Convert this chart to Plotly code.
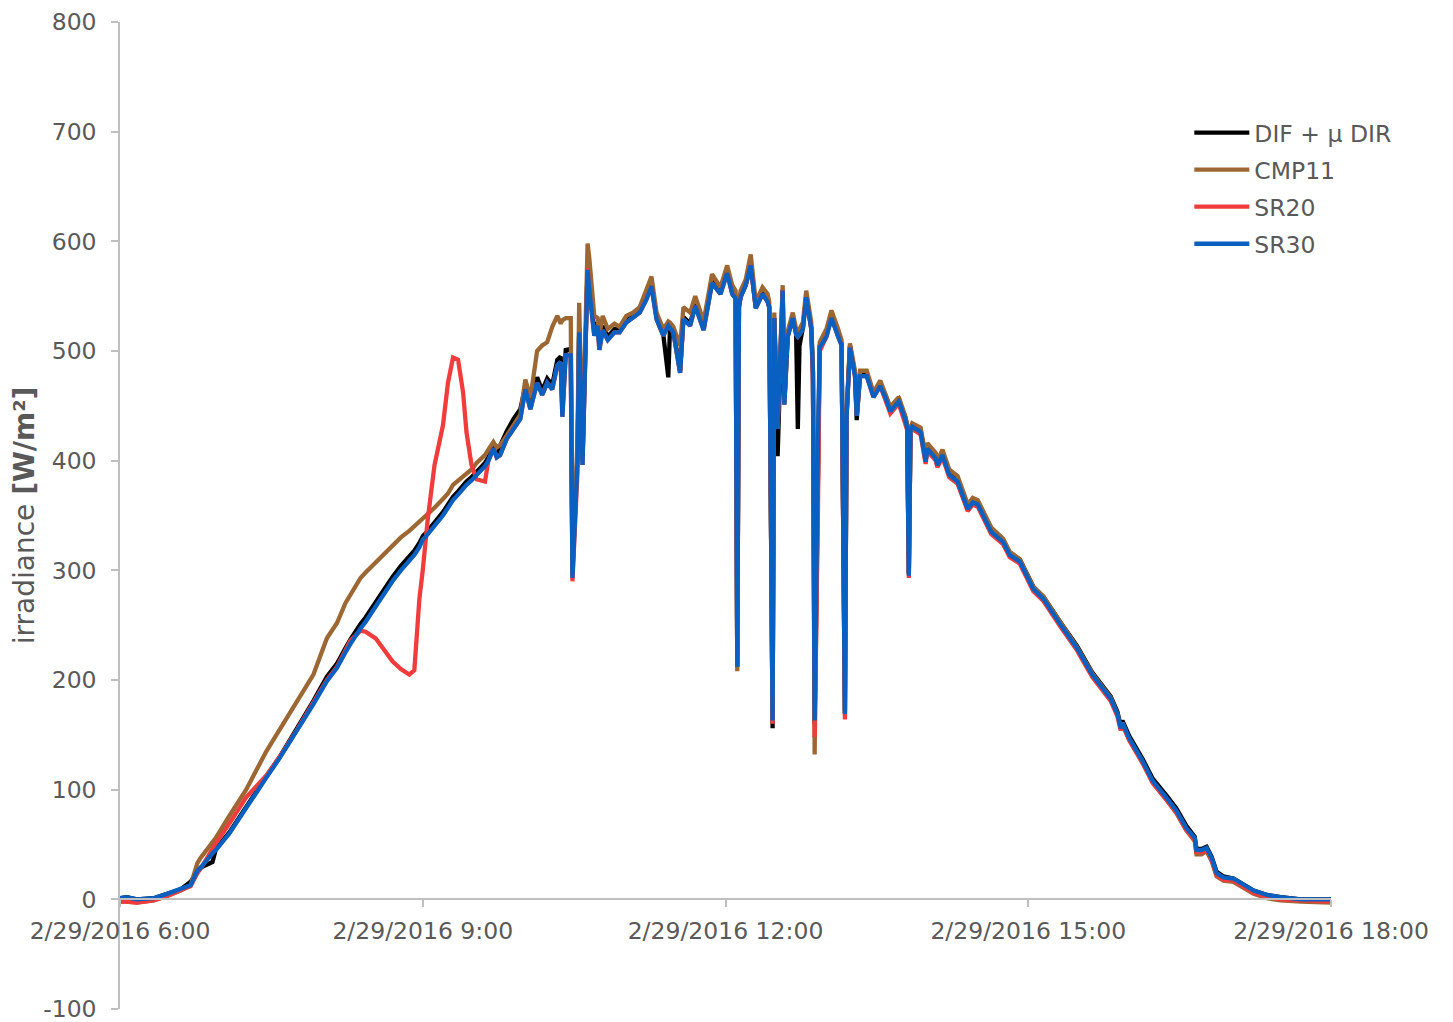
import pandas as pd
import plotly.graph_objects as go

# time of day on 2/29/2016
times = [
    "06:00", "06:04", "06:10", "06:20", "06:28", "06:36", "06:42", "06:46", "06:48", "06:55",
    "06:57", "07:05", "07:15", "07:27", "07:35", "07:45", "07:55", "08:03", "08:09", "08:14",
    "08:17", "08:23", "08:26", "08:32", "08:37", "08:42", "08:47", "08:52", "08:55", "08:58",
    "09:00", "09:03", "09:07", "09:12", "09:15", "09:18", "09:21", "09:24", "09:26", "09:29",
    "09:32", "09:37", "09:39", "09:42", "09:44", "09:46", "09:50", "09:54", "09:58", "10:01",
    "10:04", "10:08", "10:11", "10:14", "10:17", "10:20", "10:22", "10:23", "10:25", "10:28",
    "10:29", "10:32", "10:33", "10:35", "10:38", "10:39", "10:42", "10:44", "10:45", "10:47",
    "10:50", "10:54", "10:57", "11:01", "11:05", "11:09", "11:13", "11:16", "11:19", "11:23",
    "11:26", "11:27", "11:29", "11:33", "11:35", "11:39", "11:42", "11:47", "11:52", "11:57",
    "12:01", "12:04", "12:06", "12:07", "12:08", "12:09", "12:12", "12:15", "12:18", "12:22",
    "12:25", "12:26", "12:28", "12:29", "12:31", "12:34", "12:35", "12:37", "12:40", "12:42",
    "12:43", "12:44", "12:46", "12:48", "12:51", "12:52", "12:53", "12:55", "12:56", "13:00",
    "13:03", "13:07", "13:09", "13:11", "13:12", "13:14", "13:17", "13:18", "13:20", "13:24",
    "13:28", "13:32", "13:35", "13:38", "13:43", "13:47", "13:48", "13:49", "13:50", "13:51",
    "13:56", "13:59", "14:00", "14:05", "14:06", "14:09", "14:13", "14:18", "14:22", "14:24",
    "14:27", "14:30", "14:38", "14:45", "14:49", "14:55", "15:03", "15:09", "15:19", "15:29",
    "15:38", "15:49", "15:53", "15:55", "15:56", "16:00", "16:08", "16:14", "16:22", "16:28",
    "16:34", "16:39", "16:40", "16:43", "16:46", "16:49", "16:52", "16:56", "17:02", "17:06",
    "17:14", "17:22", "17:30", "17:42", "18:00",
]

sr30 = [
    1, 2, 0, 1, 5, 9, 13, 26, 29, 42,
    45, 60, 84, 111, 129, 153, 178, 199, 211, 225,
    233, 247, 253, 267, 279, 290, 300, 309, 314, 321,
    328, 333, 340, 350, 357, 364, 369, 375, 378, 382,
    387, 395, 400, 411, 403, 405, 420, 429, 438, 465,
    447, 471, 460, 471, 465, 487, 490, 440, 496, 496,
    293, 399, 517, 396, 574, 556, 514, 523, 501, 519,
    510, 517, 517, 526, 530, 535, 547, 559, 529, 514,
    523, 521, 517, 480, 529, 523, 541, 519, 562, 552,
    571, 552, 548, 212, 540, 549, 560, 578, 539, 552,
    545, 540, 163, 530, 429, 555, 451, 513, 530, 515,
    513, 515, 520, 549, 520, 480, 163, 422, 503, 513,
    530, 513, 505, 169, 440, 503, 477, 441, 477, 477,
    458, 468, 458, 445, 454, 437, 430, 295, 428, 431,
    426, 399, 411, 402, 396, 405, 387, 381, 365, 356,
    362, 360, 335, 326, 314, 308, 283, 274, 251, 229,
    205, 183, 169, 156, 161, 147, 126, 108, 93, 81,
    65, 56, 45, 45, 47, 38, 24, 20, 19, 15,
    8, 4, 2, 0, 0,
]

dif_mu_dir = [
    1, 2, 0, 1, 5, 9, 16, 24, 29, 34,
    46, 61, 85, 112, 130, 155, 181, 203, 215, 229,
    237, 251, 257, 271, 283, 294, 304, 313, 318, 325,
    331, 336, 343, 353, 360, 367, 372, 378, 381, 385,
    390, 398, 403, 413, 407, 414, 427, 438, 447, 468,
    451, 476, 464, 475, 469, 492, 495, 446, 501, 502,
    300, 405, 520, 400, 578, 560, 518, 526, 505, 523,
    513, 520, 520, 529, 533, 537, 550, 562, 531, 515,
    476, 521, 519, 482, 531, 525, 543, 521, 564, 554,
    573, 554, 549, 212, 540, 550, 560, 578, 540, 552,
    546, 540, 156, 530, 404, 556, 453, 514, 531, 516,
    429, 505, 521, 550, 521, 480, 160, 422, 505, 515,
    532, 515, 507, 170, 442, 505, 479, 437, 478, 478,
    460, 470, 460, 447, 456, 439, 432, 297, 430, 433,
    428, 401, 413, 404, 398, 407, 389, 383, 367, 358,
    364, 362, 337, 328, 316, 310, 285, 276, 253, 231,
    207, 185, 171, 158, 163, 149, 128, 110, 95, 83,
    67, 57, 46, 46, 48, 39, 25, 21, 19, 15,
    8, 4, 2, 0, 0,
]

cmp11 = [
    -2, -2, -3, -1, 3, 8, 13, 33, 38, 52,
    56, 76, 100, 135, 155, 180, 205, 238, 252, 270,
    278, 293, 298, 307, 314, 322, 330, 336, 340, 344,
    347, 351, 357, 365, 370, 378, 382, 386, 389, 392,
    398, 405, 410, 417, 412, 414, 423, 432, 442, 474,
    457, 500, 505, 508, 522, 532, 525, 528, 530, 530,
    296, 420, 544, 410, 598, 585, 532, 530, 515, 532,
    520, 525, 522, 532, 535, 540, 555, 568, 535, 520,
    527, 526, 522, 505, 540, 535, 550, 527, 570, 558,
    578, 560, 555, 208, 546, 555, 565, 588, 545, 558,
    552, 545, 163, 535, 432, 560, 455, 518, 535, 520,
    518, 520, 526, 555, 526, 482, 132, 422, 508, 520,
    537, 520, 510, 172, 445, 507, 482, 445, 482, 482,
    462, 473, 462, 449, 458, 440, 432, 297, 430, 434,
    430, 405, 416, 407, 400, 410, 392, 386, 369, 360,
    366, 364, 339, 329, 317, 310, 285, 276, 253, 230,
    206, 184, 169, 156, 161, 146, 125, 107, 91, 79,
    63, 53, 41, 41, 44, 35, 21, 17, 16, 12,
    5, 1, -1, -2, -3,
]

sr20 = [
    -2, -2, -3, -1, 3, 8, 12, 24, 28, 46,
    51, 69, 93, 113, 130, 154, 179, 200, 212, 228,
    236, 245, 244, 238, 227, 217, 210, 205, 209, 274,
    300, 347, 396, 432, 471, 494, 492, 462, 426, 396,
    383, 381, 400, 411, 403, 405, 420, 429, 438, 465,
    447, 471, 460, 471, 465, 487, 490, 440, 496, 496,
    290, 390, 517, 396, 576, 556, 514, 523, 501, 519,
    510, 517, 517, 526, 530, 535, 547, 559, 529, 514,
    523, 521, 517, 480, 529, 523, 541, 519, 562, 552,
    571, 552, 548, 212, 540, 549, 560, 578, 539, 552,
    545, 540, 160, 530, 429, 555, 451, 513, 530, 515,
    513, 515, 520, 549, 520, 470, 148, 360, 500, 513,
    530, 513, 505, 164, 440, 503, 477, 441, 477, 477,
    458, 468, 456, 443, 452, 435, 428, 293, 426, 429,
    424, 397, 409, 400, 394, 403, 385, 379, 363, 354,
    360, 358, 333, 324, 312, 306, 281, 272, 249, 227,
    203, 181, 167, 154, 159, 145, 124, 106, 91, 79,
    63, 54, 43, 43, 45, 36, 22, 18, 17, 13,
    6, 2, 0, -1, -2,
]

series_names = ["DIF + \u03bc DIR", "CMP11", "SR20", "SR30"]
series_values = [dif_mu_dir, cmp11, sr20, sr30]
series_colors = ["#000000", "#9C6733", "#F03C3C", "#0A60C0"]

x_tick_vals = ["2016-02-29 06:00", "2016-02-29 09:00", "2016-02-29 12:00",
               "2016-02-29 15:00", "2016-02-29 18:00"]
x_tick_text = ["2/29/2016 6:00", "2/29/2016 9:00", "2/29/2016 12:00",
               "2/29/2016 15:00", "2/29/2016 18:00"]
y_tick_vals = [-100, 0, 100, 200, 300, 400, 500, 600, 700, 800]
y_tick_text = ["-100", "0", "100", "200", "300", "400", "500", "600", "700", "800"]

ts = pd.to_datetime(["2016-02-29 " + t for t in times])

fig = go.Figure()
for name, vals, col in zip(series_names, series_values, series_colors):
    fig.add_trace(go.Scatter(
        x=ts, y=vals, mode="lines", name=name, legendgroup=name,
        line=dict(color=col, width=4.3),
    ))

font_family = "DejaVu Sans, Verdana, sans-serif"
grey = "#595959"
axis_grey = "#BFBFBF"
fs = 23.5

fig.update_layout(
    width=1453, height=1022,
    margin=dict(l=112, r=130, t=14, b=21, autoexpand=False),
    paper_bgcolor="white", plot_bgcolor="white",
    font=dict(family=font_family, size=fs, color=grey),
    showlegend=True,
    legend=dict(
        x=0.883, y=0.910, xanchor="left", yanchor="top",
        font=dict(family=font_family, size=fs, color=grey),
        traceorder="grouped", tracegroupgap=3.5, itemwidth=55,
        bgcolor="rgba(0,0,0,0)",
    ),
    xaxis=dict(
        type="date",
        range=["2016-02-29 06:00", "2016-02-29 18:00"],
        tickvals=x_tick_vals, ticktext=x_tick_text,
        showgrid=False, zeroline=False, automargin=False,
        showline=True, linecolor=axis_grey, linewidth=1.5,
        ticks="outside", ticklen=7, tickcolor=axis_grey, tickwidth=1.5,
        ticklabelstandoff=4, ticklabeloverflow="allow",
        anchor="free", position=100 / 900,
        tickfont=dict(family=font_family, size=fs, color=grey),
    ),
    yaxis=dict(
        range=[-100, 800],
        tickvals=y_tick_vals, ticktext=y_tick_text,
        showgrid=False, zeroline=False, automargin=False,
        showline=True, linecolor=axis_grey, linewidth=1.5,
        ticks="outside", ticklen=7, tickcolor=axis_grey, tickwidth=1.5,
        ticklabelstandoff=10, ticklabeloverflow="allow",
        tickfont=dict(family=font_family, size=fs, color=grey),
        title=dict(text="irradiance <b>[W/m²]</b>",
                   font=dict(family=font_family, size=28, color=grey),
                   standoff=12),
    ),
)

fig.write_html("out.html")
